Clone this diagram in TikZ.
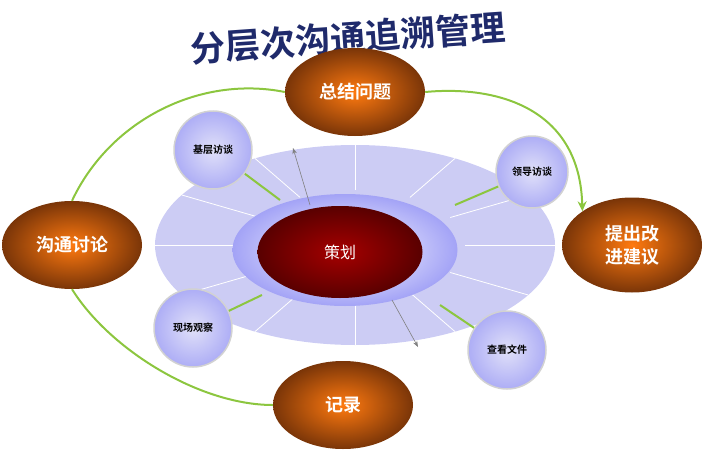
\documentclass[tikz,border=0pt]{standalone}
\usepackage{fontspec}
\newfontfamily\cjk{Noto Sans CJK SC}[BoldFont={Noto Sans CJK SC Bold}]
\usetikzlibrary{shapes.geometric,arrows.meta,calc}
\definecolor{navy}{HTML}{1F2A6B}
\definecolor{ringc}{HTML}{CCCCF4}
\definecolor{grn}{HTML}{8CC63F}
\definecolor{orin}{HTML}{FF7A10}
\definecolor{orout}{HTML}{7A3508}
\tikzset{
 big/.style={ellipse,minimum width=140pt,minimum height=88pt,inner sep=0pt,
   shade,inner color=orin,outer color=orout,
   font=\cjk\bfseries\fontsize{18}{21}\selectfont,text=white,align=center},
 small/.style={circle,minimum size=78pt,inner sep=0pt,draw=gray!35,line width=1.5pt,
   shade,inner color=ringc!60!white,outer color=ringc!85!blue,
   font=\cjk\bfseries\fontsize{10}{12}\selectfont,text=black},
 gl/.style={grn,line width=2pt},
 ga/.style={gray,-{Stealth[length=6pt]},line width=0.6pt}
}
\begin{document}
\begin{tikzpicture}[x=1pt,y=-1pt]
\useasboundingbox (0,0) rectangle (706,460);
% ring
\fill[ringc] (355,245) ellipse (200 and 100);
\foreach \a in {0,30,...,330}
  \draw[white,line width=0.8pt] ($(355,245)+(\a:110 and 55)$) -- ($(355,245)+(\a:200 and 100)$);
\node[ellipse,minimum width=225pt,minimum height=112pt,shade,inner color=white,outer color=ringc!80!blue] (mid) at (345,250) {};
\node[ellipse,minimum width=165pt,minimum height=92pt,shade,inner color=red!65!black,outer color=red!35!black,
  text=white,font=\cjk\fontsize{16}{18}\selectfont] (c) at (340,252) {策划};
% title
\node[text=navy,font=\cjk\bfseries\fontsize{35}{38}\selectfont,rotate=4] (t) at (348,38) {分层次沟通追溯管理};
% big
\node[big] (a) at (355,92) {总结问题};
\node[big] (b) at (72,245) {沟通讨论};
\node[big] (d) at (343,405) {记录};
\node[big,minimum height=95pt,font=\cjk\bfseries\fontsize{18}{23}\selectfont] (e) at (632,245) {提出改\\进建议};
% small
\node[small] (s1) at (213,150) {基层访谈};
\node[small,minimum size=72pt] (s2) at (532,172) {领导访谈};
\node[small] (s3) at (193,328) {现场观察};
\node[small] (s4) at (507,350) {查看文件};
\coordinate (r1) at (280,200);
\coordinate (r2) at (455,205);
\coordinate (r3) at (262,295);
\coordinate (r4) at (440,305);
\draw[gl] (s1) -- (r1);
\draw[gl] (s2) -- (r2);
\draw[gl] (s3) -- (r3);
\draw[gl] (s4) -- (r4);
% arrows
\coordinate (p1) at (310,205); \coordinate (q1) at (293,148);
\coordinate (p2) at (392,300); \coordinate (q2) at (418,347);
\draw[ga] (p1) -- (q1);
\draw[ga] (p2) -- (q2);
% green arcs
\draw[gl] (b.north) .. controls (110,120) and (200,75) .. (a.west);
\draw[gl,-{Stealth[length=10pt,width=9pt]}] (a.east) .. controls (500,85) and (580,110) .. (e.north west);
\draw[gl] (b.south) .. controls (110,350) and (200,405) .. (d.west);
\end{tikzpicture}
\end{document}
